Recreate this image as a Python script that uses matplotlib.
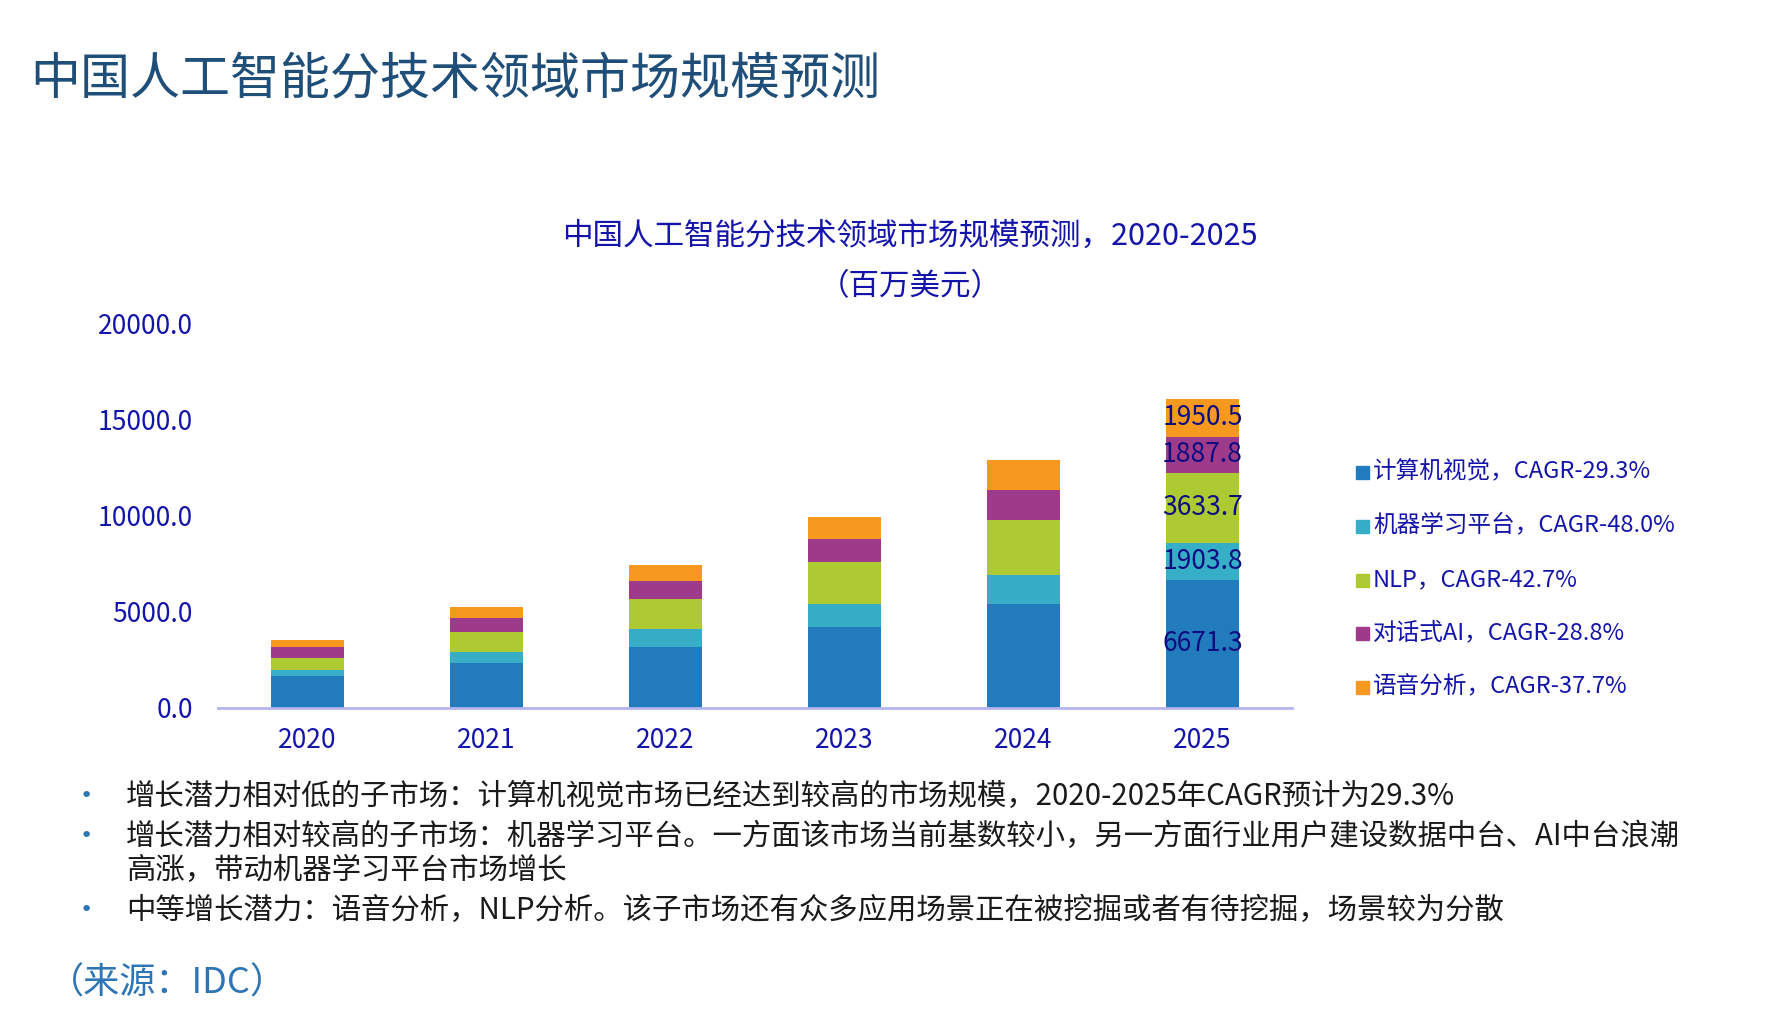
import matplotlib
matplotlib.use("Agg")
import matplotlib.pyplot as plt
from matplotlib.patches import Rectangle
import numpy as np

plt.rcParams['font.family'] = ['Noto Sans CJK SC', 'DejaVu Sans']

years = ["2020", "2021", "2022", "2023", "2024", "2025"]
series_names = ["计算机视觉，CAGR-29.3%", "机器学习平台，CAGR-48.0%", "NLP，CAGR-42.7%",
                "对话式AI，CAGR-28.8%", "语音分析，CAGR-37.7%"]
cv = [1640, 2315, 3150, 4194, 5395, 6671.3]
ml = [313, 574, 940, 1201, 1514, 1903.8]
nlp = [627, 1044, 1566, 2193, 2872, 3633.7]
conv = [574, 731, 940, 1201, 1566, 1887.8]
speech = [365, 574, 835, 1149, 1514, 1950.5]
yticks = [0, 5000, 10000, 15000, 20000]
colors = ["#227BBD", "#36AEC8", "#ADCA32", "#9D3B8A", "#F8991F"]

main_title = "中国人工智能分技术领域市场规模预测"
chart_title = "中国人工智能分技术领域市场规模预测，2020-2025"
chart_subtitle = "（百万美元）"
bullet_lines = [
    ("增长潜力相对低的子市场：计算机视觉市场已经达到较高的市场规模，2020-2025年CAGR预计为29.3%", True),
    ("增长潜力相对较高的子市场：机器学习平台。一方面该市场当前基数较小，另一方面行业用户建设数据中台、AI中台浪潮", True),
    ("高涨，带动机器学习平台市场增长", False),
    ("中等增长潜力：语音分析，NLP分析。该子市场还有众多应用场景正在被挖掘或者有待挖掘，场景较为分散", True),
]
source = "（来源：IDC）"

W, H = 1790, 1032
fig = plt.figure(figsize=(W / 100, H / 100), dpi=100)
fig.patch.set_facecolor("white")

ax = fig.add_axes([218 / W, 1 - 708 / H, (1292 - 218) / W, (708 - 323) / H])
series = [cv, ml, nlp, conv, speech]
x = np.arange(len(years))
bottom = np.zeros(len(years))
for vals, c in zip(series, colors):
    ax.bar(x, vals, width=0.41, bottom=bottom, color=c, linewidth=0)
    bottom += np.array(vals)

# data labels on last bar
bottom = 0.0
for vals in series:
    v = vals[-1]
    ax.text(x[-1], bottom + v / 2, f"{v:.1f}", ha="center", va="center",
            fontsize=19, color="#0D0D80")
    bottom += v

ax.set_xlim(-0.5, len(years) - 0.5)
ax.set_ylim(0, 20000)
ax.set_yticks(yticks)
ax.set_yticklabels([f"{t:.1f}" for t in yticks])
ax.set_xticks(x)
ax.set_xticklabels(years)
ax.tick_params(axis="y", length=0, pad=18, labelsize=19, labelcolor="#1414AA")
ax.tick_params(axis="x", length=0, pad=14, labelsize=19, labelcolor="#1414AA")
for s in ["top", "right", "left"]:
    ax.spines[s].set_visible(False)
ax.spines["bottom"].set_color("#B4B4F0")
ax.spines["bottom"].set_linewidth(2)
ax.set_facecolor("none")

# legend (manual)
leg_y = [472, 526, 580, 633, 687]
for name, c, yy in zip(series_names, colors, leg_y):
    fig.patches.append(Rectangle((1356 / W, 1 - (yy + 7) / H), 13 / W, 13 / H,
                                 transform=fig.transFigure, color=c))
    fig.text(1373 / W, 1 - yy / H, name, ha="left", va="center",
             fontsize=17, color="#1414AA")

fig.text(30 / W, 1 - 80 / H, main_title, ha="left", va="center",
         fontsize=36, color="#1F4E79")
fig.text(910 / W, 1 - 236 / H, chart_title, ha="center", va="center",
         fontsize=22, color="#1414AA")
fig.text(910 / W, 1 - 287 / H, chart_subtitle, ha="center", va="center",
         fontsize=22, color="#1414AA")

line_y = [796, 836, 870, 910]
for (txt, has_bullet), yy in zip(bullet_lines, line_y):
    if has_bullet:
        fig.text(80 / W, 1 - yy / H, "•", ha="left", va="center",
                 fontsize=16, color="#2E75B6", family="DejaVu Sans")
    fig.text(126 / W, 1 - yy / H, txt, ha="left", va="center",
             fontsize=21.2, color="#1A1A1A")

fig.text(48 / W, 1 - 984 / H, source, ha="left", va="center",
         fontsize=26, color="#2E75B6")

fig.savefig("out.png", dpi=100, facecolor="white")
